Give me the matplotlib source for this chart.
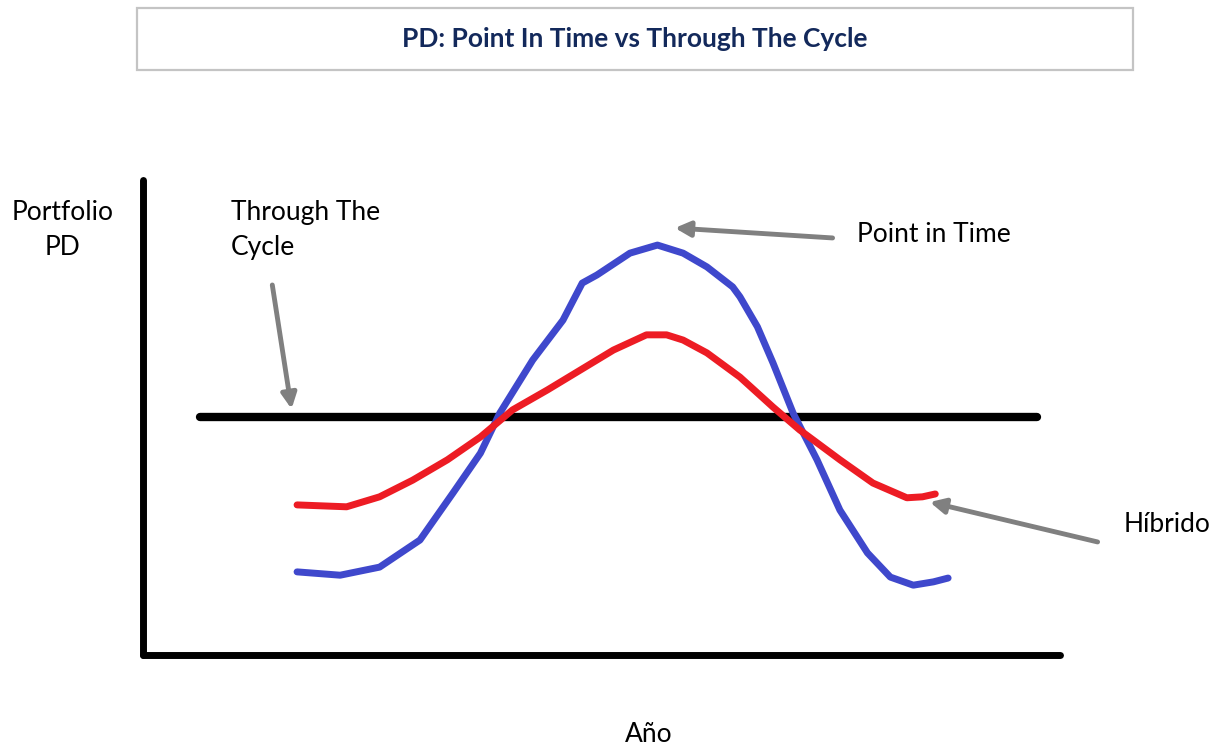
import matplotlib
matplotlib.use("Agg")
import matplotlib.pyplot as plt
from matplotlib.patches import Rectangle

plt.rcParams['font.family'] = ['Lato', 'DejaVu Sans']

# Data (x = time 0..100, y = PD 0..100)
pit_x = [16.8, 21.5, 25.8, 30.2, 33.8, 36.8, 38.9, 42.5, 45.8, 47.9, 49.5, 53.1, 56.1,
         58.9, 61.5, 64.3, 65.1, 67.0, 68.7, 70.9, 73.5, 76.0, 79.0, 81.5, 84.0, 86.2, 87.8]
pit_y = [17.5, 16.8, 18.5, 24.2, 34.1, 42.5, 50.9, 62.1, 70.5, 78.3, 80.0, 84.6, 86.3,
         84.6, 81.7, 77.5, 75.4, 69.1, 61.5, 50.9, 41.1, 30.5, 21.5, 16.4, 14.7, 15.4, 16.2]

hyb_x = [16.8, 22.2, 25.8, 29.4, 33.2, 36.8, 40.3, 44.1, 47.7, 51.3, 54.9, 57.1, 58.9,
         61.5, 65.1, 68.7, 71.6, 76.0, 79.6, 83.3, 85.0, 86.4]
hyb_y = [31.6, 31.2, 33.3, 36.8, 41.1, 45.9, 51.6, 55.8, 60.0, 64.2, 67.4, 67.4, 66.3,
         63.6, 58.5, 52.2, 47.4, 41.1, 36.2, 33.1, 33.3, 33.9]

ttc_x = [6.2, 97.5]
ttc_y = [50.1, 50.1]

title = "PD: Point In Time vs Through The Cycle"

W, H = 1227, 749
fig = plt.figure(figsize=(W / 100, H / 100), dpi=100)
fig.patch.set_facecolor("white")

# title box
fig.add_artist(Rectangle((137 / W, 1 - 70 / H), (1133 - 137) / W, 62 / H,
                         transform=fig.transFigure, fill=False,
                         edgecolor="#C4C4C4", lw=1.6))
fig.text(635 / W, 1 - 39 / H, title, ha="center", va="center",
         fontsize=19, fontweight="bold", color="#13295B")

# plot area: spines are the hand-drawn axes
ax = fig.add_axes([143 / W, (H - 655) / H, (1060 - 143) / W, (655 - 180) / H])
ax.set_xlim(0, 100)
ax.set_ylim(0, 100)
ax.set_xticks([])
ax.set_yticks([])
for s in ["top", "right"]:
    ax.spines[s].set_visible(False)
for s in ["left", "bottom"]:
    ax.spines[s].set_linewidth(5)
    ax.spines[s].set_capstyle("round")

ax.plot(ttc_x, ttc_y, color="black", lw=6, solid_capstyle="round", clip_on=False)
ax.plot(pit_x, pit_y, color="#3F48CC", lw=5, solid_capstyle="round",
        solid_joinstyle="round", clip_on=False)
ax.plot(hyb_x, hyb_y, color="#ED1C24", lw=5, solid_capstyle="round",
        solid_joinstyle="round", clip_on=False)

arrow = dict(arrowstyle="-|>,head_length=0.9,head_width=0.45", color="#808080",
             lw=3.5, shrinkA=0, shrinkB=0)

ax.annotate("", xy=(16.2, 51.8), xytext=(14.1, 77.9), arrowprops=arrow,
            annotation_clip=False)
ax.annotate("", xy=(58.0, 89.9), xytext=(75.2, 87.8), arrowprops=arrow,
            annotation_clip=False)
ax.annotate("", xy=(85.8, 32.2), xytext=(104.1, 23.8), arrowprops=arrow,
            annotation_clip=False)

txt = dict(fontsize=19, color="black", va="center", linespacing=1.5)
ax.text(9.6, 89.5, "Through The\nCycle", ha="left", **txt)
ax.text(-8.8, 89.5, "Portfolio\nPD", ha="center", multialignment="center", **txt)
ax.text(77.9, 88.6, "Point in Time", ha="left", **txt)
ax.text(106.9, 27.4, "Híbrido", ha="left", **txt)
ax.text(55.1, -16.8, "Año", ha="center", **txt)

fig.savefig("out.png", dpi=100, facecolor="white")
